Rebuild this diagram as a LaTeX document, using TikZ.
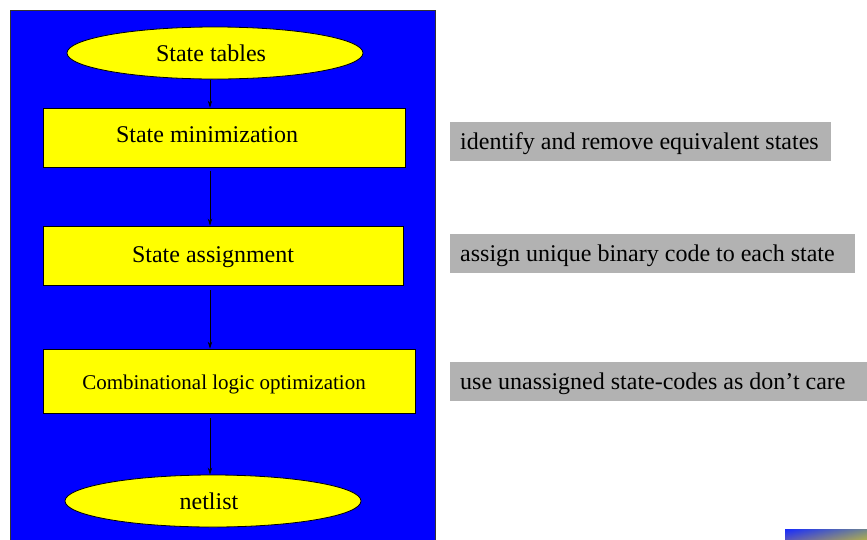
\documentclass[tikz,border=0pt]{standalone}
\usepackage{fontspec}
\setmainfont{Liberation Serif}
\usetikzlibrary{shapes.geometric,arrows.meta}
\definecolor{pblue}{RGB}{0,0,255}
\definecolor{pyellow}{RGB}{255,255,0}
\definecolor{pgray}{RGB}{178,178,178}
\begin{document}
\begin{tikzpicture}[x=1pt,y=-1pt,
  stepbox/.style={draw=black,line width=0.8pt,fill=pyellow,rectangle,inner sep=0pt},
  termnode/.style={draw=black,line width=0.8pt,fill=pyellow,ellipse,inner sep=0pt,minimum width=296pt,minimum height=52pt},
  note/.style={fill=pgray,rectangle,inner sep=0pt,anchor=west,minimum height=39pt},
  notetext/.style={anchor=west,xshift=10pt,yshift=-2pt,inner sep=0pt,font=\fontsize{24}{28}\selectfont},
  flow/.style={draw=black,line width=0.8pt,-{Stealth[length=7pt,width=4.5pt]}},
  boxtext/.style={font=\fontsize{24}{28}\selectfont}]
\useasboundingbox (0,0) rectangle (867,539);
\fill[white] (0,0) rectangle (867,539);
% blue panel
\draw[fill=pblue,draw=black!80,line width=0.8pt] (10,10) rectangle (435,545);
% nodes
\node[termnode,label={[boxtext,xshift=-4pt]center:State tables}] (st) at (215,53) {};
\node[stepbox,minimum width=362pt,minimum height=59pt,label={[boxtext,xshift=-17pt,yshift=3pt]center:State minimization}] (min) at (224,137.5) {};
\node[stepbox,minimum width=360pt,minimum height=59pt,label={[boxtext,xshift=-10pt,yshift=-2pt]center:State assignment}] (asg) at (223,255.5) {};
\node[stepbox,minimum width=372pt,minimum height=64pt,label={[font=\fontsize{21}{25}\selectfont,xshift=-5pt,yshift=-3pt]center:Combinational logic optimization}] (clo) at (229,381) {};
\node[termnode,label={[boxtext,xshift=-4pt]center:netlist}] (nl) at (213,501) {};
% connectors
\draw[flow] (st.south -| 210,0) ++(0,1) -- (min.north -| 210,0);
\draw[flow] ([yshift=-4pt]min.south -| 210,0) -- (asg.north -| 210,0);
\draw[flow] ([yshift=-5pt]asg.south -| 210,0) -- (clo.north -| 210,0);
\draw[flow] ([yshift=-5pt]clo.south -| 210,0) -- (nl.north -| 210,0);
% notes
\node[note,minimum width=381pt,label={[notetext]west:identify and remove equivalent states}] (n1) at (450,141.5) {};
\node[note,minimum width=405pt,label={[notetext]west:assign unique binary code to each state}] (n2) at (450,253.5) {};
\node[note,minimum width=417pt,label={[notetext]west:use unassigned state-codes as don’t care}] (n3) at (450,381.5) {};
% gradient bar
\shade[top color=blue!80!cyan,bottom color=blue!40!yellow!70!gray] (785,529) rectangle (867,539);
\shade[left color=blue!85!white,right color=yellow!50!gray,opacity=0.6] (785,529) rectangle (867,539);
\end{tikzpicture}
\end{document}
